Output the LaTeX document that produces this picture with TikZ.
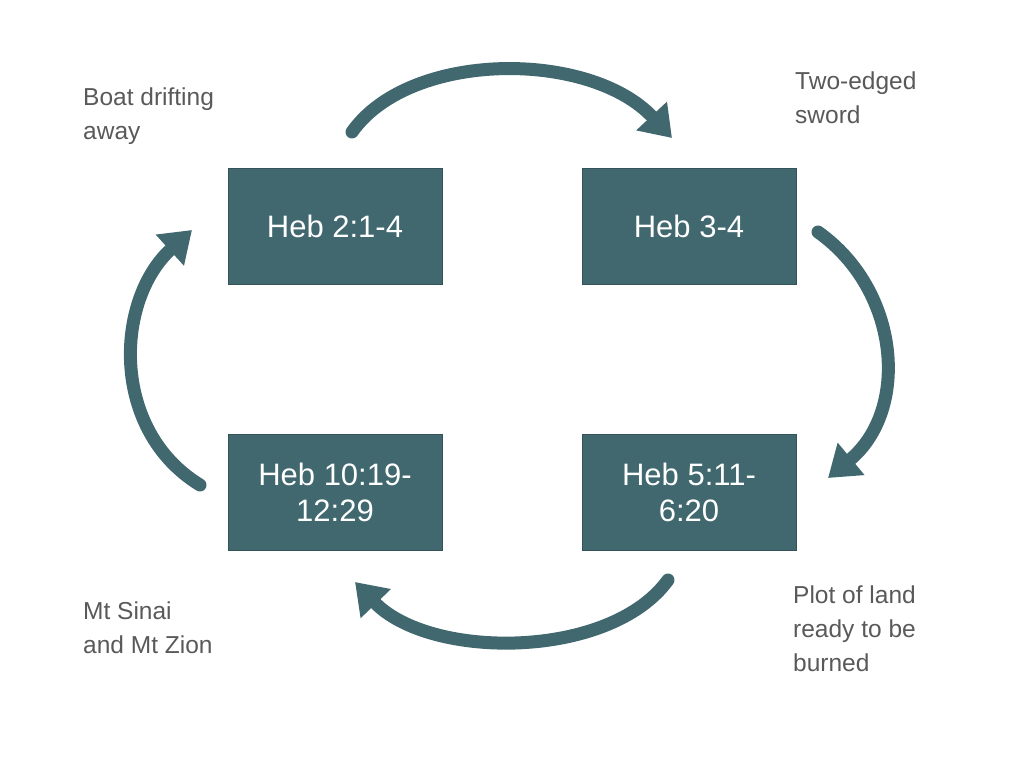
\documentclass[tikz,border=0pt]{standalone}
\usepackage{fontspec}
\setmainfont{Liberation Sans}
\usetikzlibrary{arrows.meta}
\definecolor{teal}{HTML}{40686E}
\definecolor{lbl}{HTML}{595959}
\begin{document}
\begin{tikzpicture}[x=1pt,y=-1pt,
  box/.style={fill=teal,draw=teal!80!black,line width=1pt,minimum width=214pt,minimum height=116pt,text=white,font=\fontsize{31}{36}\selectfont,align=center,inner sep=2pt},
  lab/.style={text=lbl,font=\fontsize{24.5}{34}\selectfont,align=left,anchor=north west,inner sep=0pt},
  arr/.style={draw=teal,line width=13pt,line cap=round,-{Triangle[width=40pt,length=30pt]}}]
\useasboundingbox (0,0) rectangle (1024,768);
\node[box] (a) at (335,226) {Heb 2:1-4};
\node[box] (b) at (689,226) {Heb 3-4};
\node[box] (c) at (335,492) {Heb 10:19-\\12:29};
\node[box] (d) at (689,492) {Heb 5:11-\\6:20};
\node[lab] (la) at (83,88) {Boat drifting\\away};
\node[lab] (lb) at (795,72) {Two-edged\\sword};
\node[lab] (lc) at (83,602) {Mt Sinai\\and Mt Zion};
\node[lab] (ld) at (793,586) {Plot of land\\ready to be\\burned};
\coordinate (t1) at (352,132); \coordinate (t2) at (672,138);
\coordinate (r1) at (818,232); \coordinate (r2) at (828,478);
\coordinate (b1) at (668,580); \coordinate (b2) at (355,582);
\coordinate (l1) at (200,485); \coordinate (l2) at (192,230);
\draw[arr] (t1) .. controls (410,50) and (590,50) .. (t2);
\draw[arr] (r1) .. controls (900,290) and (910,410) .. (r2);
\draw[arr] (b1) .. controls (610,660) and (430,660) .. (b2);
\draw[arr] (l1) .. controls (110,430) and (115,300) .. (l2);
\end{tikzpicture}
\end{document}
